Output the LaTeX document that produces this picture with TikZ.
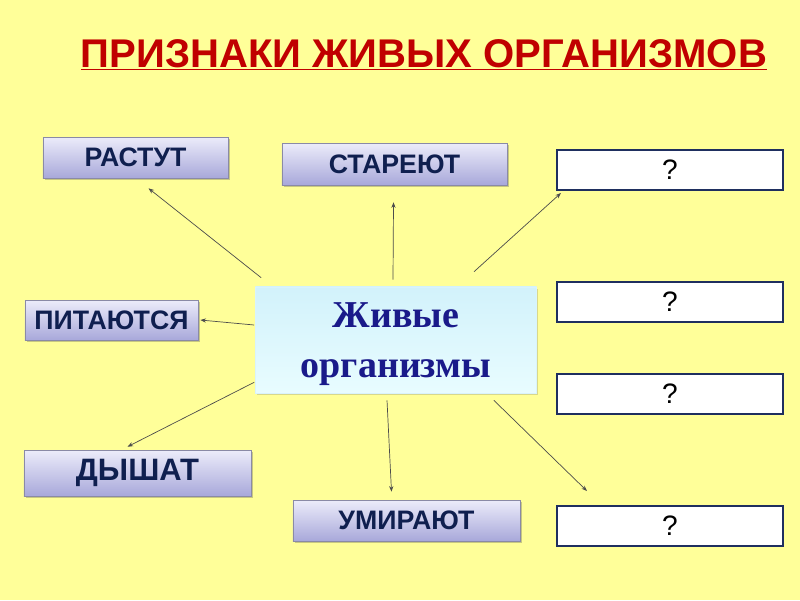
\documentclass[tikz,border=0pt]{standalone}
\usepackage{fontspec}
\setmainfont{Liberation Serif}
\setsansfont{Liberation Sans}
\usepackage{xcolor}
\usetikzlibrary{arrows.meta, positioning, calc, shadows}
\definecolor{slidebg}{HTML}{FFFF99}
\definecolor{titlered}{HTML}{C00000}
\definecolor{signtext}{HTML}{0F1F4F}
\definecolor{signtop}{HTML}{ECECFA}
\definecolor{signbot}{HTML}{A8A8DA}
\definecolor{signedge}{HTML}{8A8AA6}
\definecolor{askedge}{HTML}{1F2F5F}
\definecolor{coretext}{HTML}{1A1A8A}
\definecolor{coretop}{HTML}{D2F2FB}
\definecolor{corebot}{HTML}{E8FCFF}

\begin{document}
\begin{tikzpicture}[x=0.025cm, y=-0.025cm,
        sign/.style={draw=signedge, top color=signtop, bottom color=signbot,
                     inner sep=0pt, text=signtext,
                     font=\sffamily\bfseries\fontsize{19}{21}\selectfont,
                     drop shadow={shadow xshift=1.2pt, shadow yshift=-1.2pt,
                                  opacity=.3, fill=black!70}},
        ask/.style={draw=askedge, line width=1.4pt, fill=white, inner sep=0pt,
                    minimum width=5.65cm, minimum height=1cm,
                    font=\sffamily\fontsize{20}{22}\selectfont},
        arr/.style={-{Stealth[length=4pt, width=3pt]}, draw=black!70, line width=0.5pt}]
      % slide background
      \fill[slidebg] (0,0) rectangle (800,600);
      \useasboundingbox (0,0) rectangle (800,600);
      \node[anchor=base, text=titlered, font=\sffamily\bfseries\fontsize{28.5}{31}\selectfont]
            (title) at (424,67) {\underline{ПРИЗНАКИ ЖИВЫХ ОРГАНИЗМОВ}};
      % central node
      \node[draw=cyan!15, top color=coretop, bottom color=corebot, inner sep=0pt,
            minimum width=7.025cm, minimum height=2.65cm, align=center, text depth=0pt,
            text=coretext, font=\bfseries\fontsize{27}{36}\selectfont,
            drop shadow={shadow xshift=1.2pt, shadow yshift=-1.2pt, opacity=.25, fill=black!60}]
            (core) at (396,340) {Живые\\организмы};
      % known signs
      \node[sign, minimum width=4.625cm, minimum height=1.025cm] (grow) at (135.5,157.5) {РАСТУТ};
      \node[sign, minimum width=5.625cm, minimum height=1.05cm] (age) at (394.5,164) {СТАРЕЮТ};
      \node[sign, minimum width=4.325cm, minimum height=1cm] (feed) at (111.5,320) {ПИТАЮТСЯ};
      \node[sign, minimum width=5.675cm, minimum height=1.15cm,
            font=\sffamily\bfseries\fontsize{22}{24}\selectfont] (breathe) at (137.5,473) {ДЫШАТ};
      \node[sign, minimum width=5.675cm, minimum height=1.025cm] (die) at (406.5,520.5) {УМИРАЮТ};
      % unknown signs
      \node[ask] (q1) at (670,170) {?};
      \node[ask] (q2) at (670,302) {?};
      \node[ask] (q3) at (670,394) {?};
      \node[ask] (q4) at (670,526) {?};
      % arrows from the centre
      \draw[arr] ($(core.north west)+(6,-9)$) -- ($(grow.south)+(13,10)$);
      \draw[arr] ($(core.north)+(-3,-7)$) -- ($(age.south)+(-1,17)$);
      \draw[arr] ($(core.north)+(78,-15)$) -- ($(q1.south west)+(5,2)$);
      \draw[arr] ($(core.west)+(-1,-15)$) -- ($(feed.east)+(2,0)$);
      \draw[arr] ($(core.south west)+(-1,-11)$) -- ($(breathe.north)+(-10,-3)$);
      \draw[arr] ($(core.south)+(-9,7)$) -- ($(die.north)+(-15,-8)$);
      \draw[arr] ($(core.south east)+(-43,7)$) -- ($(q4.north west)+(31,-14)$);
    \end{tikzpicture}
\end{document}
